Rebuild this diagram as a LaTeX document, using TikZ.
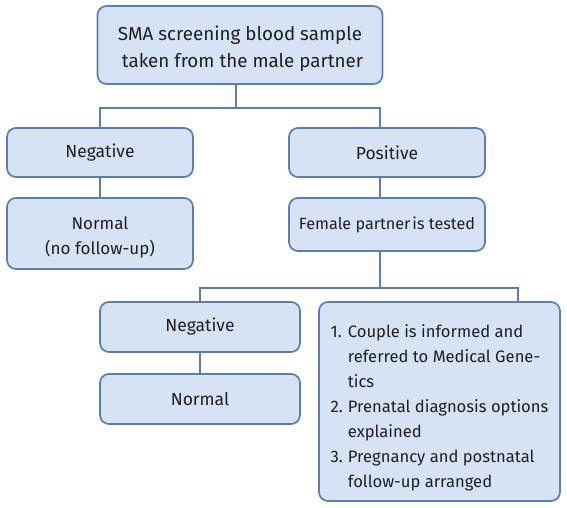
\documentclass[tikz,border=0pt]{standalone}
\usepackage{fontspec}
\setmainfont{Fira Sans}
\usetikzlibrary{calc}
\definecolor{boxfill}{HTML}{D5E3F5}
\definecolor{boxline}{HTML}{5A7DB3}
\tikzset{
  box/.style={draw=boxline, fill=boxfill, line width=1.7pt, rounded corners=9pt,
    inner sep=0pt, align=center, font=\fontsize{17.5}{25}\selectfont, text=black!88},
  link/.style={draw=boxline, line width=1.7pt}
}
\begin{document}
\begin{tikzpicture}[x=1pt,y=-1pt]
\useasboundingbox (0,0) rectangle (567,507);
\node[box, minimum width=285pt, minimum height=78pt, font=\fontsize{18.8}{27}\selectfont] (top) at (240,45)
  {\raisebox{-4pt}[\height][\depth]{\begin{tabular}{@{}c@{}}SMA screening blood sample\\ \ taken from the male partner\end{tabular}}};
\node[box, minimum width=186pt, minimum height=49pt] (neg1) at (100,152.5) {Negative};
\node[box, minimum width=196pt, minimum height=49pt] (pos) at (387,152.5) {Positive};
\node[box, minimum width=186pt, minimum height=71pt, font=\fontsize{17}{25}\selectfont] (norm1) at (100,233.5)
  {\raisebox{-3pt}[\height][\depth]{\begin{tabular}{@{}c@{}}Normal\\(no follow-up)\end{tabular}}};
\node[box, minimum width=196pt, minimum height=53pt, font=\fontsize{16.2}{25}\selectfont] (fem) at (387,224.5) {Female partner\hspace{2pt}is tested};
\node[box, minimum width=200pt, minimum height=50pt] (neg2) at (200,327) {Negative};
\node[box, minimum width=200pt, minimum height=50pt] (norm2) at (200,399) {Normal};
\node[box, minimum width=241pt, minimum height=199pt, align=left, font=\fontsize{16.6}{24.9}\selectfont] (list) at (439.5,401.5)
  {\raisebox{-6pt}[\height][\depth]{\begin{tabular}{@{}l@{\hspace{5pt}}l@{}}
   1. & Couple is informed and\\
      & referred to Medical Gene-\\
      & tics\\
   2. & Prenatal diagnosis options\\
      & explained\\
   3. & Pregnancy and postnatal\\
      & follow-up arranged
   \end{tabular}}};
\coordinate (j1) at ($(top.south)+(-4,23)$);
\draw[link] ($(top.south)+(-4,0)$) -- (j1);
\draw[link] (j1) -| (neg1.north);
\draw[link] (j1) -| ([xshift=-7pt]pos.north);
\draw[link] (neg1) -- (norm1);
\draw[link] ([xshift=-7pt]pos.south) -- ([xshift=-7pt]fem.north);
\coordinate (j2) at ($([xshift=-7pt]fem.south)+(0,36)$);
\draw[link] ([xshift=-7pt]fem.south) -- (j2);
\draw[link] (j2) -| (neg2.north);
\draw[link] (j2) -| ([xshift=-43pt]list.north east);
\draw[link] (neg2) -- (norm2);
\end{tikzpicture}
\end{document}
